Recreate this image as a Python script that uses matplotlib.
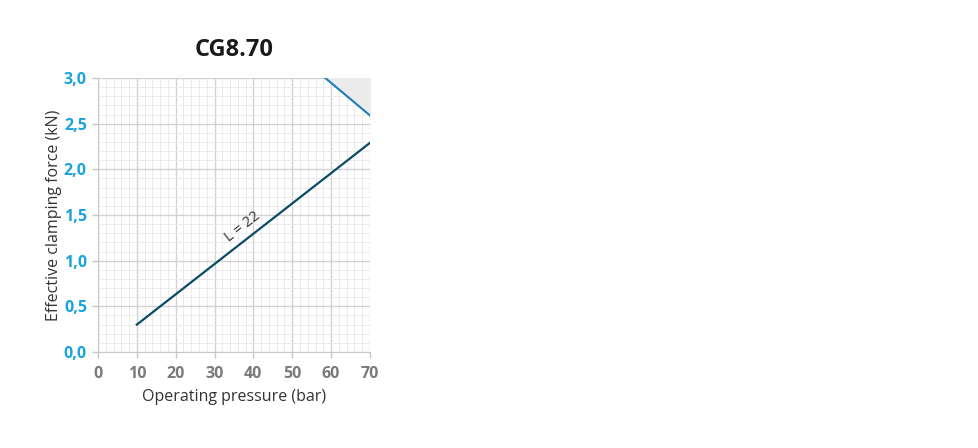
import matplotlib.pyplot as plt
from matplotlib.ticker import MultipleLocator

# data
pressure = [10, 70]
force_l22 = [0.30, 2.29]
limit_pressure = [58.5, 70]
limit_force = [3.0, 2.59]

x_ticks = [0, 10, 20, 30, 40, 50, 60, 70]
y_ticks = [0.0, 0.5, 1.0, 1.5, 2.0, 2.5, 3.0]
y_labels = ['0,0', '0,5', '1,0', '1,5', '2,0', '2,5', '3,0']

plt.rcParams['font.family'] = ['Open Sans', 'DejaVu Sans']

fig = plt.figure(figsize=(9.79, 4.48), dpi=100)
ax = fig.add_axes([0.1001, 0.2143, 0.2778, 0.6116])

# grid
ax.xaxis.set_minor_locator(MultipleLocator(2))
ax.yaxis.set_minor_locator(MultipleLocator(0.1))
ax.grid(which='major', color='#d2d2d2', linewidth=1.0)
ax.grid(which='minor', color='#e8e8e8', linewidth=0.6)
ax.set_axisbelow(True)

# shaded limit region
ax.fill_between(limit_pressure, limit_force, [3.0, 3.0], color='#ebebeb', zorder=1)
ax.plot(limit_pressure, limit_force, color='#1b7fb8', linewidth=1.5, zorder=3)

ax.plot(pressure, force_l22, color='#0c4a66', linewidth=1.6, zorder=3)
ax.text(37.3, 1.37, 'L = 22', rotation=38, ha='center', va='center',
        fontsize=10.5, color='#333333', zorder=4)

ax.set_xlim(0, 70)
ax.set_ylim(0, 3.0)
ax.set_xticks(x_ticks)
ax.set_yticks(y_ticks)
ax.set_yticklabels(y_labels)
ax.tick_params(axis='x', which='major', length=4, color='#c8c8c8', width=1, pad=6)
ax.tick_params(axis='y', which='major', length=4, color='#c8c8c8', width=1, pad=4)
ax.tick_params(axis='both', which='minor', length=0)
for lbl in ax.get_xticklabels():
    lbl.set_fontweight('bold')
    lbl.set_color('#7a7a7a')
    lbl.set_fontsize(11.5)
for lbl in ax.get_yticklabels():
    lbl.set_fontweight('bold')
    lbl.set_color('#1aa3dc')
    lbl.set_fontsize(11.5)

for s in ['top', 'right']:
    ax.spines[s].set_visible(False)
for s in ['left', 'bottom']:
    ax.spines[s].set_color('#c8c8c8')

ax.set_xlabel('Operating pressure (bar)', fontsize=11.5, color='#333333', labelpad=5)
ax.set_ylabel('Effective clamping force (kN)', fontsize=11.5, color='#333333', labelpad=1)
ax.set_title('CG8.70', fontsize=17, fontweight='bold', color='#1a1a1a', pad=16)

fig.savefig('out.png', dpi=100)
